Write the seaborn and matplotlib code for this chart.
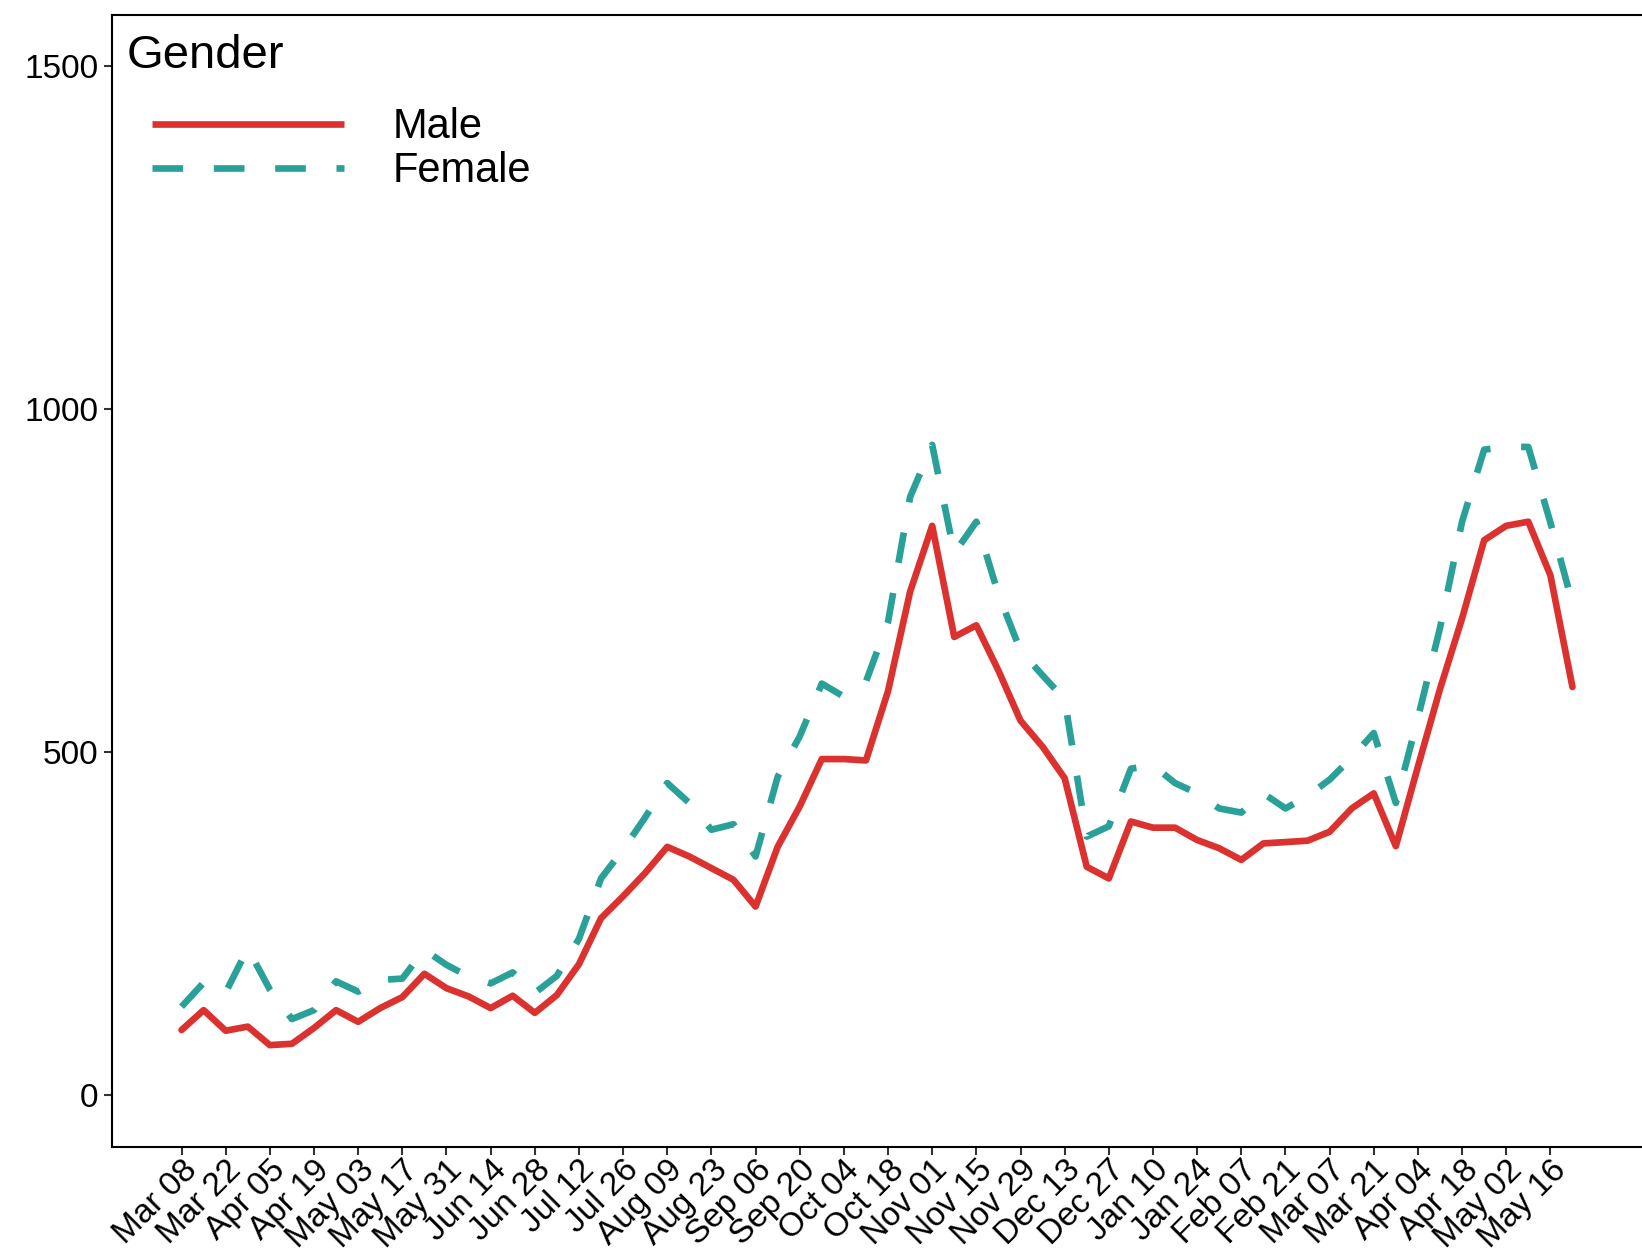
import pandas as pd
import matplotlib.pyplot as plt
import seaborn as sns
from matplotlib.lines import Line2D
from matplotlib.legend_handler import HandlerLine2D

# weekly counts, Mar 08 2020 - May 23 2021
weeks = pd.date_range('2020-03-08', periods=64, freq='7D')

male = [95, 124, 94, 100, 73, 75, 98, 124, 107, 127,
        143, 177, 156, 144, 127, 145, 120, 146, 191, 258,
        290, 324, 362, 348, 331, 314, 275, 362, 421, 490,
        490, 488, 589, 734, 830, 668, 685, 619, 546, 508,
        462, 333, 316, 399, 390, 390, 372, 360, 343, 367,
        369, 371, 384, 418, 440, 363, 479, 592, 695, 809,
        830, 836, 758, 595]

female = [129, 164, 150, 214, 154, 111, 124, 166, 151, 168,
          170, 212, 190, 173, 163, 179, 149, 174, 228, 316,
          358, 405, 455, 426, 387, 395, 348, 464, 523, 600,
          581, 603, 690, 872, 948, 790, 836, 730, 648, 612,
          577, 377, 392, 476, 481, 455, 440, 418, 412, 440,
          418, 436, 460, 492, 528, 426, 550, 681, 836, 941,
          945, 945, 835, 717]

tick_labels = ['Mar 08', 'Mar 22', 'Apr 05', 'Apr 19', 'May 03', 'May 17',
               'May 31', 'Jun 14', 'Jun 28', 'Jul 12', 'Jul 26', 'Aug 09',
               'Aug 23', 'Sep 06', 'Sep 20', 'Oct 04', 'Oct 18', 'Nov 01',
               'Nov 15', 'Nov 29', 'Dec 13', 'Dec 27', 'Jan 10', 'Jan 24',
               'Feb 07', 'Feb 21', 'Mar 07', 'Mar 21', 'Apr 04', 'Apr 18',
               'May 02', 'May 16']
y_ticks = [0, 500, 1000, 1500]

red = '#dc322f'
teal = '#2aa198'
lw = 4.8
dash = (4.6, 4.6)

df = pd.DataFrame({
    'week': list(weeks) * 2,
    'count': male + female,
    'Gender': ['Male'] * len(male) + ['Female'] * len(female),
})

sns.set_style('ticks')
plt.rcParams['font.family'] = ['Liberation Sans', 'DejaVu Sans']
plt.rcParams['text.color'] = 'black'
plt.rcParams['xtick.labelcolor'] = 'black'
plt.rcParams['ytick.labelcolor'] = 'black'

fig = plt.figure(figsize=(16.42, 12.58), dpi=100)
ax = fig.add_axes([0.0682, 0.0885, 0.9318, 0.8998])

sns.lineplot(data=df, x='week', y='count', hue='Gender', style='Gender',
             palette={'Male': red, 'Female': teal},
             dashes={'Male': '', 'Female': dash},
             linewidth=lw, estimator=None, legend=False, ax=ax,
             solid_joinstyle='round', dash_joinstyle='round')

# ggplot-like 5% expansion
span = weeks[-1] - weeks[0]
ax.set_xlim(weeks[0] - span * 0.05, weeks[-1] + span * 0.05)
ax.set_ylim(-75, 1575)

ax.set_xticks(weeks[::2])
ax.set_xticklabels(tick_labels, rotation=45, ha='right', rotation_mode='anchor')
ax.set_yticks(y_ticks)
ax.set_yticklabels([str(v) for v in y_ticks])
ax.set_xlabel('')
ax.set_ylabel('')

ax.tick_params(axis='both', length=5.6, width=1.5, color='#333333',
               labelsize=24, labelcolor='black')
ax.tick_params(axis='y', pad=4)
ax.tick_params(axis='x', pad=0)
for s in ax.spines.values():
    s.set_color('black')
    s.set_linewidth(1.5)
ax.spines['right'].set_visible(False)

h_male = Line2D([], [], color=red, lw=lw, solid_capstyle='butt')
h_female = Line2D([], [], color=teal, lw=lw, dashes=dash)
leg = ax.legend([h_male, h_female], ['Male', 'Female'], title='Gender',
                loc='upper left', bbox_to_anchor=(0.0098, 0.983),
                frameon=False, fontsize=30, title_fontsize=34,
                handlelength=5.2, handletextpad=1.18, labelspacing=0.1,
                borderpad=0, borderaxespad=0, alignment='left',
                handler_map={Line2D: HandlerLine2D(xpad=0.6)})
# extra room between the title and the keys
leg._legend_box.sep = 21

plt.savefig('out.png', dpi=100)
